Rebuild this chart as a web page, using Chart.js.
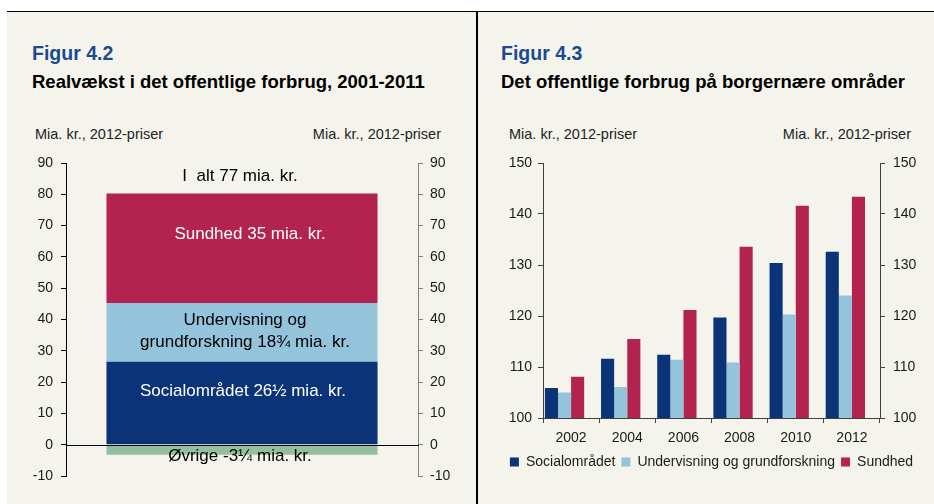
<!DOCTYPE html>
<html>
<head>
<meta charset="utf-8">
<script src="https://cdn.jsdelivr.net/npm/chart.js@4.4.1/dist/chart.umd.min.js"></script>
<style>
  body { margin: 0; background: #fff; width: 934px; height: 504px; position: relative; overflow: hidden;
    font-family: "Liberation Sans", Arial, sans-serif; }
  #panel { position: absolute; left: 7px; top: 11px; width: 927px; height: 493px; background: #f4f4ec;
    border-top: 1.5px solid #000; }
  #divider { position: absolute; left: 476px; top: 11px; width: 1.5px; height: 493px; background: #000; }
  .fig { position: absolute; color: #1b4a91; font-weight: bold; font-size: 19.5px; line-height: 19.5px; white-space: nowrap; }
  .sub { position: absolute; color: #000; font-weight: bold; font-size: 18.5px; line-height: 18.5px; white-space: nowrap; }
  .unit { position: absolute; color: #222; font-size: 14.5px; line-height: 14.5px; white-space: nowrap; }
  canvas { position: absolute; }
</style>
</head>
<body>
<div id="panel"></div>
<div id="divider"></div>

<div class="fig" style="left:32px; top:44px">Figur 4.2</div>
<div class="sub" style="left:32px; top:73px">Realvækst i det offentlige forbrug, 2001-2011</div>
<div class="unit" style="left:35px; top:127px">Mia. kr., 2012-priser</div>
<div class="unit" style="right:493px; top:127px">Mia. kr., 2012-priser</div>

<div class="fig" style="left:501px; top:44px">Figur 4.3</div>
<div class="sub" style="left:501px; top:73px">Det offentlige forbrug på borgernære områder</div>
<div class="unit" style="left:509px; top:127px">Mia. kr., 2012-priser</div>
<div class="unit" style="right:23px; top:127px">Mia. kr., 2012-priser</div>

<canvas id="fig42" width="470" height="354" style="left:0; top:150px"></canvas>
<canvas id="fig43" width="457" height="354" style="left:477px; top:150px"></canvas>

<script>
// Figur 4.2: realvækst 2001-2011, mia. kr.
const growthSegments = ['Socialområdet', 'Undervisning og grundforskning', 'Sundhed', 'Øvrige']
const growthValues = [26.5, 18.75, 35, -3.25]
const growthColors = ['#0a3378', '#94c3dc', '#b2234f', '#93bfa0']
const growthTotalLabel = 'I  alt 77 mia. kr.'
const growthLabels = [
  ['Socialområdet 26½ mia. kr.'],
  ['Undervisning og', 'grundforskning 18¾ mia. kr.'],
  ['Sundhed 35 mia. kr.'],
  ['Øvrige -3¼ mia. kr.']
]

// Figur 4.3: forbrug pr. område
const years = ['2002', '2004', '2006', '2008', '2010', '2012']
const socialValues = [105.9, 111.6, 112.4, 119.7, 130.4, 132.6]
const educationValues = [105.0, 106.1, 111.4, 110.9, 120.3, 124.0]
const healthValues = [108.1, 115.5, 121.2, 133.6, 141.6, 143.4]
const areaNames = ['Socialområdet', 'Undervisning og grundforskning', 'Sundhed']
const areaColors = ['#0a3378', '#94c3dc', '#b2234f']

const fontFamily = '"Liberation Sans", Arial, sans-serif'
const textColor = '#1a1a1a'

// force axis widths so both plot areas line up with the reference,
// and drop the label padding chart.js would add above/below the axis
function fixWidth (w) {
  return scale => {
    scale.width = w
    scale.paddingTop = 0
    scale.paddingBottom = 0
  }
}

const growthLabelPlugin = {
  id: 'growthLabels',
  afterDatasetsDraw (chart) {
    const { ctx, chartArea, scales: { x, y } } = chart
    ctx.save()
    // zero line goes over the bar
    const y0 = Math.round(y.getPixelForValue(0)) + 0.5
    ctx.strokeStyle = '#000'
    ctx.lineWidth = 1
    ctx.beginPath()
    ctx.moveTo(chartArea.left, y0)
    ctx.lineTo(chartArea.right + 1, y0)
    ctx.stroke()

    const cx = x.getPixelForValue(0)
    const placements = [
      { text: growthTotalLabel, at: 85.6, dx: -2, color: '#000' },
      { text: growthLabels[2][0], at: 67.2, dx: 8, color: '#fff' },
      { text: growthLabels[1][0], at: 39.8, dx: 3, color: '#000' },
      { text: growthLabels[1][1], at: 32.8, dx: 3, color: '#000' },
      { text: growthLabels[0][0], at: 16.9, dx: 1, color: '#fff' },
      { text: growthLabels[3][0], at: -3.7, dx: -2, color: '#000' }
    ]
    ctx.font = '17px ' + fontFamily
    ctx.textAlign = 'center'
    ctx.textBaseline = 'middle'
    placements.forEach(p => {
      ctx.fillStyle = p.color
      ctx.fillText(p.text, cx + p.dx, y.getPixelForValue(p.at))
    })
    ctx.restore()
  }
}

function yAxis (position, min, max, width, axisColor, padding) {
  return {
    type: 'linear',
    position: position,
    stacked: position === 'left',
    min: min,
    max: max,
    ticks: { stepSize: 10, padding: padding, color: textColor, font: { size: 14, family: fontFamily } },
    grid: { drawOnChartArea: false, tickLength: 5, tickColor: axisColor },
    border: { color: axisColor, width: 1 },
    afterFit: fixWidth(width)
  }
}

new Chart(document.getElementById('fig42'), {
  type: 'bar',
  data: {
    labels: [''],
    datasets: growthSegments.map((name, i) => ({
      label: name,
      data: [growthValues[i]],
      backgroundColor: growthColors[i],
      barPercentage: 0.77,
      categoryPercentage: 1
    }))
  },
  options: {
    responsive: false,
    animation: false,
    layout: { padding: { top: 13, bottom: 28, left: 0, right: 0 } },
    plugins: { legend: { display: false }, tooltip: { enabled: false } },
    scales: {
      x: { stacked: true, display: false },
      y: yAxis('left', -10, 90, 66, '#000', 8),
      y2: yAxis('right', -10, 90, 52, '#808080', 7)
    }
  },
  plugins: [growthLabelPlugin]
})

const areaSeries = [socialValues, educationValues, healthValues]

new Chart(document.getElementById('fig43'), {
  type: 'bar',
  data: {
    labels: years,
    datasets: areaSeries.map((values, i) => ({
      label: areaNames[i],
      data: values,
      backgroundColor: areaColors[i],
      barPercentage: 1,
      categoryPercentage: 0.933
    })).concat([{
      // empty fourth slot, the original leaves room for it in every group
      label: '',
      data: [],
      barPercentage: 1,
      categoryPercentage: 0.933
    }])
  },
  options: {
    responsive: false,
    animation: false,
    layout: { padding: { top: 13, bottom: 25, left: 12, right: 0 } },
    plugins: {
      tooltip: { enabled: false },
      legend: {
        position: 'bottom',
        labels: {
          boxWidth: 9,
          boxHeight: 9,
          padding: 6,
          color: textColor,
          font: { size: 14, family: fontFamily },
          filter: item => item.text !== ''
        }
      }
    },
    scales: {
      x: {
        ticks: { padding: 7, color: textColor, font: { size: 14, family: fontFamily } },
        grid: { drawOnChartArea: false, offset: true, tickLength: 5, tickColor: '#404040' },
        border: { color: '#404040' },
        afterFit: scale => { scale.height = 31 }
      },
      y: Object.assign(yAxis('left', 100, 150, 54, '#404040', 6), { stacked: false }),
      y2: yAxis('right', 100, 150, 54, '#404040', 8)
    }
  }
})
</script>
</body>
</html>
